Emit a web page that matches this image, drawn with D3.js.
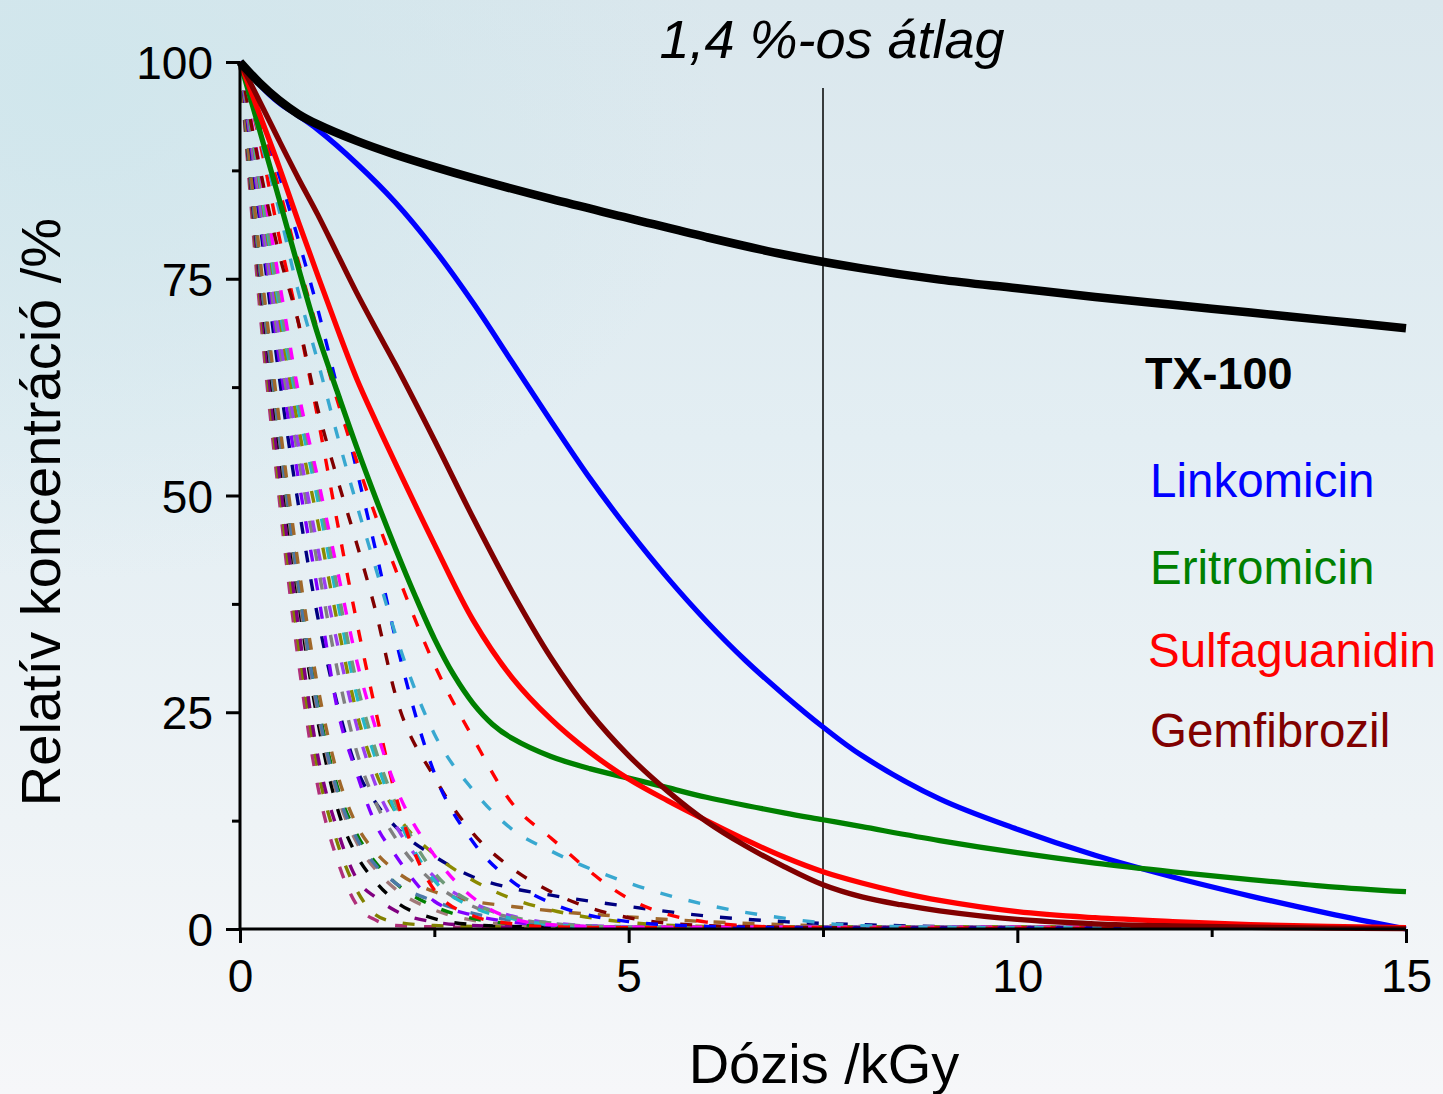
<!DOCTYPE html>
<html><head><meta charset="utf-8">
<script src="https://cdn.jsdelivr.net/npm/d3@7"></script>
<style>
html,body{margin:0;padding:0;background:#f4f6f8;}
svg{display:block;font-family:"Liberation Sans",Arial,sans-serif;}
</style></head>
<body>
<svg id="chart" width="1443" height="1094"></svg>
<script>
// ---------- DATA ----------
const xTicks = [0, 5, 10, 15];
const xMinorTicks = [2.5, 7.5, 12.5];
const yTicks = [0, 25, 50, 75, 100];
const yMinorTicks = [12.5, 37.5, 62.5, 87.5];
const titleText = "1,4 %-os átlag";
const xTitle = "Dózis /kGy";
const yTitle = "Relatív koncentráció /%";
const markerDose = 7.5;
const markerTop = 97;

// solid curves
const tx100Dose = [0, 0.25, 0.5, 0.75, 1, 1.5, 2, 2.5, 3, 4, 5, 6, 7, 8, 9, 10, 11, 12, 13, 14, 15];
const tx100Val  = [100, 97.6, 95.6, 94.0, 92.8, 90.9, 89.3, 87.9, 86.6, 84.2, 82, 79.8, 77.8, 76.2, 74.9, 73.9, 72.9, 72, 71.1, 70.2, 69.3];

const linkDose = [0, 0.25, 0.5, 0.75, 1, 1.5, 2, 2.5, 3, 3.5, 4, 4.5, 5, 5.5, 6, 6.5, 7, 7.5, 8, 9, 10, 11, 12, 13, 14, 15];
const linkVal  = [100, 97.4, 95.3, 93.8, 92.2, 88.3, 83.8, 78.4, 72.2, 65.4, 58.6, 52, 46, 40.5, 35.5, 31, 27, 23.3, 20, 15, 11.5, 8.5, 6, 3.8, 1.8, 0];

const eritDose = [0, 0.25, 0.5, 0.75, 1, 1.25, 1.5, 1.75, 2, 2.25, 2.5, 2.75, 3, 3.25, 3.5, 4, 4.5, 5, 5.5, 6, 7, 7.5, 8, 9, 10, 11, 12, 13, 14, 15];
const eritVal  = [100, 92.2, 84.3, 76.3, 68.6, 62, 55.6, 49.6, 43.9, 38.5, 33.5, 29.3, 26.0, 23.6, 22.0, 19.9, 18.5, 17.4, 16.3, 15.2, 13.4, 12.6, 11.8, 10.2, 8.8, 7.6, 6.6, 5.7, 4.9, 4.3];

const sulfDose = [0, 0.25, 0.5, 0.75, 1, 1.25, 1.5, 1.75, 2, 2.5, 3, 3.5, 4, 4.5, 5, 5.5, 6, 6.5, 7, 7.5, 8, 8.5, 9, 10, 11, 12, 13, 14, 15];
const sulfVal  = [100, 94, 88, 81.6, 75.4, 69.3, 63.5, 58.5, 53.7, 44.4, 35.6, 29.0, 24.2, 20.4, 17.3, 14.8, 12.5, 10.3, 8.3, 6.6, 5.3, 4.2, 3.3, 2.0, 1.3, 0.85, 0.5, 0.3, 0.15];

const gemfDose = [0, 0.25, 0.5, 0.75, 1, 1.25, 1.5, 1.75, 2, 2.5, 3, 3.5, 4, 4.5, 5, 5.5, 6, 6.5, 7, 7.5, 8, 8.5, 9, 10, 11, 12, 13, 14, 15];
const gemfVal  = [100, 95.5, 91, 86.6, 82.4, 77.9, 73.4, 69.2, 65.1, 56.4, 47.4, 38.9, 31.3, 25.0, 20.0, 15.9, 12.4, 9.6, 7.2, 5.1, 3.7, 2.8, 2.1, 1.1, 0.6, 0.35, 0.2, 0.1, 0.05];

// dashed curves (all on a common dose grid)
const dashDose = [0, 0.25, 0.5, 0.75, 1, 1.25, 1.5, 1.75, 2, 2.5, 3, 3.5, 4, 5, 6, 7, 8, 10, 15];
const dashColors = ["#b0307a", "#808000", "#800080", "#000000", "#a07878", "#008000", "#4a78a8", "#a0682a",
                    "#000080", "#8000ff", "#808080", "#9a3ff0", "#8a8a00", "#22b8c8", "#6f9a78", "#ff0000",
                    "#ff00ff", "#800000", "#0000ff", "#38a8d0", "#ff0000"];
const dash01 = [100, 72, 50, 31, 16.5, 8, 2.8, 1, 0.4, 0.25, 0.2, 0.2, 0.2, 0.15, 0.15, 0.15, 0.15, 0.15, 0.15];
const dash02 = [100, 73.5, 51.5, 33, 18.5, 10, 4.5, 1.6, 0.8, 0.4, 0.3, 0.25, 0.25, 0.25, 0.25, 0.25, 0.25, 0.25, 0.25];
const dash03 = [100, 74.5, 53, 35, 20, 11.5, 5.8, 3.6, 2.1, 0.8, 0.4, 0.3, 0.25, 0.2, 0.2, 0.2, 0.2, 0.2, 0.2];
const dash04 = [100, 76, 56, 38, 24, 14, 8.5, 5.4, 3.2, 1.2, 0.5, 0.3, 0.2, 0.15, 0.15, 0.15, 0.15, 0.15, 0.15];
const dash05 = [100, 76.5, 57, 39, 25, 15.5, 10, 6.8, 4.6, 2.2, 1, 0.5, 0.3, 0.15, 0.15, 0.15, 0.15, 0.15, 0.15];
const dash06 = [100, 77, 58, 40, 26, 16.5, 11, 7.6, 5.3, 2.6, 1.2, 0.6, 0.3, 0.2, 0.2, 0.2, 0.2, 0.2, 0.2];
const dash07 = [100, 77, 57.5, 40, 25.5, 16, 10.5, 7.3, 5.3, 3.2, 1.8, 1, 0.6, 0.25, 0.15, 0.15, 0.15, 0.15, 0.15];
const dash08 = [100, 78, 59, 42, 28, 18, 12, 8.8, 6.7, 4.3, 3.2, 2.6, 2.1, 1.4, 0.85, 0.5, 0.3, 0.2, 0.15];
const dash09 = [100, 82, 64, 49, 36, 26, 18.5, 14.5, 11.8, 8.4, 6, 4.7, 3.9, 2.6, 1.5, 0.85, 0.5, 0.2, 0.1];
const dash10 = [100, 83, 66, 52, 39, 25.5, 18, 12, 8.5, 3.2, 1.6, 0.8, 0.45, 0.2, 0.2, 0.2, 0.2, 0.2, 0.2];
const dash11 = [100, 84, 67.5, 54.5, 42, 30, 20.5, 14.5, 10.5, 5.3, 2.6, 1.3, 0.6, 0.2, 0.15, 0.15, 0.15, 0.15, 0.15];
const dash12 = [100, 85, 69, 56, 44, 33, 23.5, 16.5, 12, 6, 3, 1.5, 0.7, 0.25, 0.2, 0.2, 0.2, 0.2, 0.2];
const dash13 = [100, 86, 71, 58, 47, 35.5, 25, 18, 13.5, 8.6, 5.6, 3.5, 2.2, 0.75, 0.3, 0.25, 0.25, 0.25, 0.25];
const dash14 = [100, 86.5, 72, 60, 49.5, 38, 27, 19.5, 13.5, 5.6, 2.5, 1.2, 0.5, 0.15, 0.15, 0.15, 0.15, 0.15, 0.15];
const dash15 = [100, 87, 73, 61, 51, 39.5, 28.5, 20.5, 14.5, 6.5, 3, 1.4, 0.7, 0.2, 0.2, 0.2, 0.2, 0.2, 0.2];
const dash16 = [100, 91, 80, 70, 59, 47, 35.5, 25, 15.5, 4.5, 1.5, 0.6, 0.25, 0.15, 0.15, 0.15, 0.15, 0.15, 0.15];
const dash17 = [100, 88, 75, 62, 52, 41.5, 31, 23, 16.5, 8.5, 3.6, 1.2, 0.5, 0.2, 0.2, 0.2, 0.2, 0.2, 0.2];
const dash18 = [100, 88, 78, 70, 60, 52, 44.5, 36.5, 27, 17.5, 11, 7, 4.3, 1.3, 0.4, 0.2, 0.15, 0.15, 0.15];
const dash19 = [100, 93.5, 87, 79.5, 71.5, 62.5, 53, 43.5, 33.5, 18, 10, 5.5, 3, 0.85, 0.3, 0.15, 0.1, 0.1, 0.1];
const dash20 = [100, 91.5, 83, 73.5, 65.5, 57, 49, 41.5, 34, 22.5, 16, 11.5, 9, 5.3, 2.8, 1.25, 0.38, 0.15, 0.1];
const dash21 = [100, 93, 85.5, 77, 69, 61, 54, 47.5, 41.5, 30.5, 22, 14.5, 10.5, 3.5, 0.8, 0.2, 0.1, 0.1, 0.1];
const dashSeries = [dash01, dash02, dash03, dash04, dash05, dash06, dash07, dash08, dash09, dash10, dash11,
                    dash12, dash13, dash14, dash15, dash16, dash17, dash18, dash19, dash20, dash21];

const legendNames = ["TX-100", "Linkomicin", "Eritromicin", "Sulfaguanidin", "Gemfibrozil"];
const legendColors = ["#000000", "#0000ff", "#008000", "#ff0000", "#800000"];

// ---------- DRAW ----------
const svg = d3.select("#chart");
const W = 1443, H = 1094;

const defs = svg.append("defs");
const lg = defs.append("linearGradient").attr("id", "bg").attr("x1", 0).attr("y1", 0).attr("x2", 0).attr("y2", 1);
lg.append("stop").attr("offset", "0%").attr("stop-color", "#dae7ed");
lg.append("stop").attr("offset", "40%").attr("stop-color", "#e3eef3");
lg.append("stop").attr("offset", "75%").attr("stop-color", "#eef3f6");
lg.append("stop").attr("offset", "100%").attr("stop-color", "#f6f7f9");
const rg = defs.append("radialGradient").attr("id", "glow").attr("cx", 0.05).attr("cy", 0.08).attr("r", 0.45);
rg.append("stop").attr("offset", "0%").attr("stop-color", "#cfe6ec").attr("stop-opacity", 0.9);
rg.append("stop").attr("offset", "100%").attr("stop-color", "#cfe6ec").attr("stop-opacity", 0);
svg.append("rect").attr("width", W).attr("height", H).attr("fill", "url(#bg)");
svg.append("rect").attr("width", W).attr("height", H).attr("fill", "url(#glow)");

const x = d3.scaleLinear().domain([0, 15]).range([240, 1406]);
const y = d3.scaleLinear().domain([0, 100]).range([929, 62]);

const lineMono = (doses) => d3.line()
  .x((d, i) => x(doses[i]))
  .y(d => y(d))
  .curve(d3.curveMonotoneX);
const lineSmooth = (doses) => d3.line()
  .x((d, i) => x(doses[i]))
  .y(d => y(d))
  .curve(d3.curveCatmullRom.alpha(0.5));

// dashed curves
const gDash = svg.append("g");
dashSeries.forEach((vals, k) => {
  gDash.append("path")
    .attr("d", lineMono(dashDose)(vals))
    .attr("fill", "none")
    .attr("stroke", dashColors[k])
    .attr("stroke-width", 3.4)
    .attr("stroke-dasharray", "12,17");
});

// marker vertical line
svg.append("line")
  .attr("x1", x(markerDose)).attr("x2", x(markerDose))
  .attr("y1", y(markerTop)).attr("y2", y(0))
  .attr("stroke", "#000").attr("stroke-width", 1.5);

// solid curves
const solids = [
  [linkDose, linkVal, "#0000ff", 5.3],
  [eritDose, eritVal, "#008000", 5.3],
  [sulfDose, sulfVal, "#ff0000", 5.3],
  [gemfDose, gemfVal, "#800000", 5.3],
  [tx100Dose, tx100Val, "#000000", 8.5]
];
solids.forEach(([dd, vv, col, w]) => {
  svg.append("path")
    .attr("d", lineSmooth(dd)(vv))
    .attr("fill", "none")
    .attr("stroke", col)
    .attr("stroke-width", w)
    .attr("stroke-linejoin", "round");
});

// axes
const fontSize = 46;
const xAxis = d3.axisBottom(x).tickValues(xTicks).tickSize(14).tickPadding(16).tickFormat(d3.format("d"));
const gx = svg.append("g").attr("transform", `translate(0,${y(0)})`).call(xAxis);
const xMinor = d3.axisBottom(x).tickValues(xMinorTicks).tickSize(8).tickFormat("");
const gxm = svg.append("g").attr("transform", `translate(0,${y(0)})`).call(xMinor);

const yAxis = d3.axisLeft(y).tickValues(yTicks).tickSize(14).tickPadding(13).tickFormat(d3.format("d"));
const gy = svg.append("g").attr("transform", `translate(${x(0)},0)`).call(yAxis);
const yMinor = d3.axisLeft(y).tickValues(yMinorTicks).tickSize(8).tickFormat("");
const gym = svg.append("g").attr("transform", `translate(${x(0)},0)`).call(yMinor);

svg.selectAll(".domain").attr("stroke", "#000").attr("stroke-width", 3);
svg.selectAll(".tick line").attr("stroke", "#000").attr("stroke-width", 3);
svg.selectAll(".tick text").attr("font-size", fontSize).attr("fill", "#000")
  .attr("font-family", "'Liberation Sans', Arial, sans-serif");
gx.select(".domain").attr("d", `M${x(0)},0H${x(15)}`);
gy.select(".domain").attr("d", `M0,${y(0)}V${y(100)}`);
gxm.select(".domain").remove();
gym.select(".domain").remove();
gy.selectAll(".tick text").attr("dy", "0.36em");

// titles
svg.append("text").attr("x", 832).attr("y", 58).attr("text-anchor", "middle")
  .attr("font-size", 54).attr("font-style", "italic").attr("fill", "#000").text(titleText);
svg.append("text").attr("x", 824).attr("y", 1083).attr("text-anchor", "middle")
  .attr("font-size", 56).attr("fill", "#000").text(xTitle);
svg.append("text").attr("transform", "translate(60,512) rotate(-90)").attr("text-anchor", "middle")
  .attr("font-size", 56).attr("fill", "#000").text(yTitle);

// legend labels
const legY = [389, 497, 584, 667, 747];
const legX = [1145, 1150, 1150, 1148, 1150];
legendNames.forEach((n, i) => {
  svg.append("text").attr("x", legX[i]).attr("y", legY[i])
    .attr("font-size", i === 0 ? 45 : 47.5)
    .attr("font-weight", i === 0 ? "bold" : "normal")
    .attr("fill", legendColors[i]).text(n);
});
</script>
</body></html>
